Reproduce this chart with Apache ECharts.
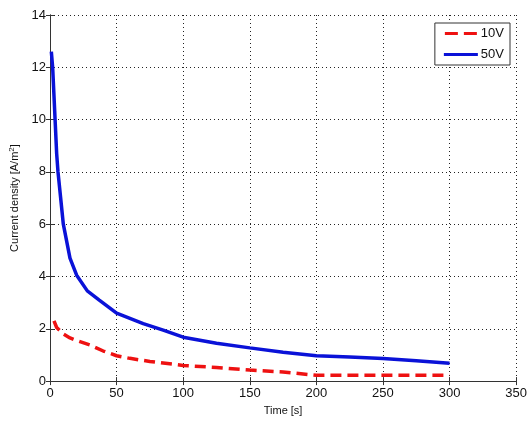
<!DOCTYPE html>
<html>
<head>
<meta charset="utf-8">
<script src="https://cdn.jsdelivr.net/npm/echarts@6/dist/echarts.min.js"></script>
<style>
  html, body { margin: 0; padding: 0; background: #fff; }
  #myEcharts { width: 530px; height: 421px; }
</style>
</head>
<body>
<div id="myEcharts"></div>
<script>
// time [s] and current density [A/m2]
var time10 = [3, 5, 10, 15, 20, 30, 40, 50, 60, 75, 100, 125, 150, 175, 200, 250, 300];
var dens10 = [2.3, 2.05, 1.8, 1.65, 1.55, 1.38, 1.15, 0.97, 0.87, 0.75, 0.6, 0.52, 0.42, 0.35, 0.22, 0.22, 0.22];

var time50 = [1, 2, 3, 4, 5, 6, 8, 10, 15, 20, 28, 37, 50, 70, 85, 100, 125, 150, 175, 200, 225, 250, 275, 300];
var dens50 = [12.6, 12.0, 10.9, 9.8, 8.7, 8.0, 7.0, 6.0, 4.7, 4.05, 3.45, 3.1, 2.6, 2.2, 1.95, 1.68, 1.45, 1.27, 1.1, 0.97, 0.92, 0.86, 0.78, 0.68];

var xTicks = [0, 50, 100, 150, 200, 250, 300, 350];
var yTicks = [0, 2, 4, 6, 8, 10, 12, 14];

function pairs(xs, ys) {
    return xs.map(function (x, i) { return [x, ys[i]]; });
}

var font = 'Liberation Sans, Arial, sans-serif';
var frame = { show: true, lineStyle: { color: '#333', width: 1 } };
var ticksIn = { show: true, inside: true, length: 4, lineStyle: { color: '#333' } };
var dotted = { show: true, lineStyle: { color: '#222', type: [1, 3], width: 1 } };

var chart = echarts.init(document.getElementById('myEcharts'));
chart.setOption({
    animation: false,
    grid: { left: 50, right: 10, top: 15, bottom: 34 },
    legend: {
        right: 20, top: 23,
        orient: 'vertical',
        backgroundColor: '#fff',
        borderColor: '#333', borderWidth: 1,
        borderRadius: 0,
        padding: [4, 6, 4, 9],
        itemWidth: 34, itemHeight: 3, itemGap: 8,
        textStyle: { fontFamily: font, fontSize: 13, color: '#111', padding: [0, 0, 0, -2] },
        data: [
            { name: '10V', icon: 'path://M0,0H13V3H0Z M19,0H32V3H19Z' },
            { name: '50V', icon: 'path://M0,0H34V3H0Z' }
        ]
    },
    xAxis: [{
        type: 'value', min: 0, max: 350, interval: 50,
        name: 'Time [s]', nameLocation: 'middle', nameGap: 22,
        nameTextStyle: { fontFamily: font, fontSize: 11, color: '#111' },
        axisLine: frame, axisTick: ticksIn, splitLine: dotted,
        axisLabel: { fontFamily: font, fontSize: 13, color: '#111', margin: 6,
            formatter: function (v) { return xTicks.indexOf(v) >= 0 ? v : ''; } }
    }, {
        type: 'value', position: 'top', min: 0, max: 350, interval: 50,
        axisLine: frame, axisTick: ticksIn, splitLine: { show: false }, axisLabel: { show: false }
    }],
    yAxis: [{
        type: 'value', min: 0, max: 14, interval: 2,
        name: 'Current density [A/m{sup|2}]', nameLocation: 'middle', nameGap: 27,
        nameTextStyle: { fontFamily: font, fontSize: 11, color: '#111',
            rich: { sup: { fontFamily: font, fontSize: 8, color: '#111', verticalAlign: 'top', padding: [0, 0, 6, 0] } } },
        axisLine: frame, axisTick: ticksIn, splitLine: dotted,
        axisLabel: { fontFamily: font, fontSize: 13, color: '#111', margin: 4,
            formatter: function (v) { return yTicks.indexOf(v) >= 0 ? v : ''; } }
    }, {
        type: 'value', position: 'right', min: 0, max: 14, interval: 2,
        axisLine: frame, axisTick: ticksIn, splitLine: { show: false }, axisLabel: { show: false }
    }],
    series: [{
        name: '10V', type: 'line', symbol: 'none',
        data: pairs(time10, dens10),
        lineStyle: { color: '#ee1111', width: 3.5, type: [11, 6] },
        itemStyle: { color: '#ee1111' }
    }, {
        name: '50V', type: 'line', symbol: 'none',
        data: pairs(time50, dens50),
        lineStyle: { color: '#0a12d8', width: 3.5 },
        itemStyle: { color: '#0a12d8' }
    }]
});
</script>
</body>
</html>
